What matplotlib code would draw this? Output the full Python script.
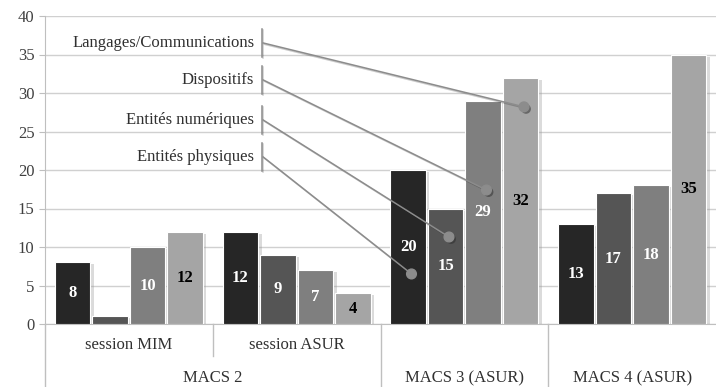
import numpy as np
import matplotlib
matplotlib.use("Agg")
import matplotlib.pyplot as plt
import matplotlib.patheffects as pe

plt.rcParams['font.family'] = ['Liberation Serif', 'DejaVu Serif']

# data
groups = ["session MIM", "session ASUR", "MACS 3 (ASUR)", "MACS 4 (ASUR)"]
series = ["Entités physiques", "Entités numériques", "Dispositifs", "Langages/Communications"]
phys = [8, 12, 20, 13]
num = [1, 9, 15, 17]
disp = [10, 7, 29, 18]
lang = [12, 4, 32, 35]
values = [phys, num, disp, lang]
colors = ["#262626", "#555555", "#7f7f7f", "#a5a5a5"]
label_colors = ["white", "white", "white", "black"]

# callouts: label y and dot y (data units), one per series
callout_text_y = [21.7, 26.5, 31.7, 36.5]
callout_dot_y = [6.5, 11.3, 17.4, 28.2]

fig = plt.figure(figsize=(7.16, 3.87), dpi=100)
ax = fig.add_axes([45/716, 1-324/387, 1-45/716, (324-16)/387])

x = np.arange(len(groups))
step = 0.2235
width = 0.212
shadow = [pe.SimplePatchShadow(offset=(2.5, -1.5), shadow_rgbFace="#999999", alpha=0.35), pe.Normal()]
for i, vals in enumerate(values):
    pos = x + (i - 1.5) * step
    bars = ax.bar(pos, vals, width, color=colors[i], edgecolor="white", linewidth=0.8,
                  zorder=3, path_effects=shadow)
    for b, v in zip(bars, vals):
        if v < 3:
            continue
        ax.text(b.get_x() + b.get_width()/2, v/2, str(v), ha="center", va="center",
                color=label_colors[i], fontsize=12, fontweight="bold", zorder=5)

ax.set_xlim(-0.5, 3.5)
ax.set_ylim(0, 40)
ax.set_yticks(range(0, 41, 5))
ax.tick_params(axis="y", labelsize=12, colors="#404040", length=4, color="#bfbfbf")
ax.yaxis.grid(True, color="#d0d0d0", linewidth=1, zorder=0)
ax.set_xticks([])
for s in ["top", "right"]:
    ax.spines[s].set_visible(False)
ax.spines["left"].set_color("#bfbfbf")
ax.spines["bottom"].set_color("#bfbfbf")

# category axis (two levels)
trans = ax.get_xaxis_transform()
def fy(px):
    return (324 - px) / (324 - 16)
ax.plot([-0.5, -0.5], [0, fy(387)], transform=trans, color="#bfbfbf", lw=1, clip_on=False)
ax.plot([0.5, 0.5], [0, fy(356)], transform=trans, color="#bfbfbf", lw=1, clip_on=False)
for xb in [1.5, 2.5]:
    ax.plot([xb, xb], [0, fy(387)], transform=trans, color="#bfbfbf", lw=1, clip_on=False)
for xi, g in zip(x, groups):
    if xi < 2:
        ax.text(xi, fy(345), g, transform=trans, ha="center", va="center", fontsize=12, color="#303030")
    else:
        ax.text(xi, fy(378), g, transform=trans, ha="center", va="center", fontsize=12, color="#303030")
ax.text(0.5, fy(378), "MACS 2", transform=trans, ha="center", va="center", fontsize=12, color="#303030")

# callouts
line_fx = [pe.SimpleLineShadow(offset=(1, -1), alpha=0.2), pe.Normal()]
bar_x = 2 + (np.arange(4) - 1.5) * step + 0.02
for i in range(4):
    ty = callout_text_y[i]
    ax.text(0.747, ty, series[i], ha="right", va="center", fontsize=12, color="#303030", zorder=6)
    ax.plot([0.794, 0.794], [ty - 1.8, ty + 1.8], color="#8c8c8c", lw=1.1, zorder=6, path_effects=line_fx)
    ax.plot([0.80, bar_x[i]], [ty, callout_dot_y[i]], color="#8c8c8c", lw=1.1, zorder=6, path_effects=line_fx)
    ax.plot(bar_x[i], callout_dot_y[i], "o", color="#8c8c8c", markersize=7, zorder=7,
            path_effects=[pe.SimplePatchShadow(offset=(1.5, -1.5), alpha=0.5), pe.Normal()])

fig.savefig("out.png", dpi=100)
